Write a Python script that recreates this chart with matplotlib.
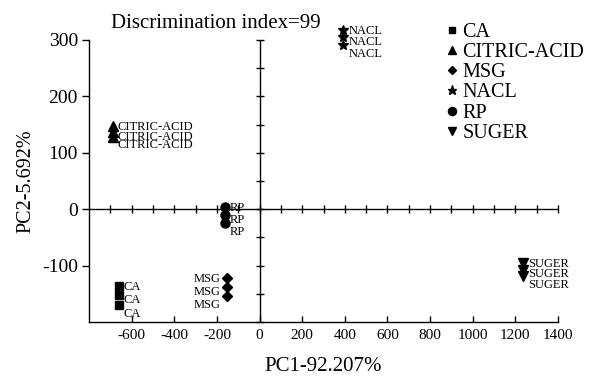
import matplotlib
matplotlib.use("Agg")
import matplotlib.pyplot as plt
import numpy as np

groups = ["CA", "CITRIC-ACID", "MSG", "NACL", "RP", "SUGER"]
markers = ["s", "^", "D", "*", "o", "v"]
pc1 = {
    "CA": [-661, -661, -661],
    "CITRIC-ACID": [-689, -689, -689],
    "MSG": [-153, -153, -153],
    "NACL": [393, 393, 393],
    "RP": [-164, -164, -164],
    "SUGER": [1235, 1235, 1235],
}
pc2 = {
    "CA": [-137, -153, -170],
    "CITRIC-ACID": [147, 137, 128],
    "MSG": [-122, -138, -154],
    "NACL": [318, 305, 291],
    "RP": [4, -11, -25],
    "SUGER": [-96, -107, -119],
}
label_side = {"CA": "right", "CITRIC-ACID": "right", "MSG": "left",
              "NACL": "right", "RP": "right", "SUGER": "right"}
title = "Discrimination index=99"
xlabel = "PC1-92.207%"
ylabel = "PC2-5.692%"
xticks = [-600, -400, -200, 0, 200, 400, 600, 800, 1000, 1200, 1400]
yticks = [-100, 0, 100, 200, 300]

serif = "Liberation Serif"
fig = plt.figure(figsize=(5.89, 3.76), dpi=100)
ax = fig.add_axes([89/589, 1-322/376, (558-89)/589, (322-40)/376])
ax.set_xlim(-800, 1400)
ax.set_ylim(-200, 300)

sizes = {"s": 5.5, "^": 6.5, "D": 5, "*": 7.5, "o": 6.5, "v": 7}
for g, m in zip(groups, markers):
    ax.plot(pc1[g], pc2[g], linestyle="none", marker=m, color="black",
            markersize=sizes[m], clip_on=False, label=g, zorder=3)
    for i, (x, y) in enumerate(zip(pc1[g], pc2[g])):
        dy = -0.5 - 2.8 * i
        if label_side[g] == "right":
            ax.annotate(g, (x, y), xytext=(3.5, dy), textcoords="offset points",
                        ha="left", va="center", fontsize=9, family=serif,
                        annotation_clip=False)
        else:
            ax.annotate(g, (x, y), xytext=(-4.5, dy), textcoords="offset points",
                        ha="right", va="center", fontsize=9, family=serif,
                        annotation_clip=False)

# zero cross lines with their own tick marks
ax.axhline(0, color="black", lw=1, zorder=1)
ax.axvline(0, color="black", lw=1, zorder=1)
hx = np.arange(-700, 1401, 100)
ax.plot(hx, np.zeros_like(hx), linestyle="none", marker="|", color="black",
        markersize=5.5, mew=1, clip_on=False, zorder=1)
vy = np.arange(-200, 301, 50)
ax.plot(np.zeros_like(vy), vy, linestyle="none", marker="_", color="black",
        markersize=5.5, mew=1, clip_on=False, zorder=1)

for s in ["top", "right"]:
    ax.spines[s].set_visible(False)
ax.spines["left"].set_linewidth(1)
ax.spines["bottom"].set_linewidth(1)

ax.set_xticks(xticks)
ax.set_xticklabels([str(t) for t in xticks], family=serif, fontsize=11)
ax.set_yticks(yticks)
ax.set_yticklabels([str(t) for t in yticks], family=serif, fontsize=14)
ax.tick_params(axis="x", direction="in", length=4, width=1, pad=5)
ax.tick_params(axis="y", direction="out", length=5, width=1, pad=3)

ax.set_xlabel(xlabel, family=serif, fontsize=15, labelpad=11)
ax.set_ylabel(ylabel, family=serif, fontsize=14.5, labelpad=5)

fig.text(216/589, 1-23/376, title, ha="center", va="center",
         family=serif, fontsize=15)

ax.legend(loc="upper left", bbox_to_anchor=(436/589, 1-13/376),
          bbox_transform=fig.transFigure, frameon=False,
          prop={"family": serif, "size": 14.5},
          handlelength=0.6, handletextpad=0.2, labelspacing=0.05, borderpad=0,
          markerscale=0.9)

fig.savefig("out.png", dpi=100)
